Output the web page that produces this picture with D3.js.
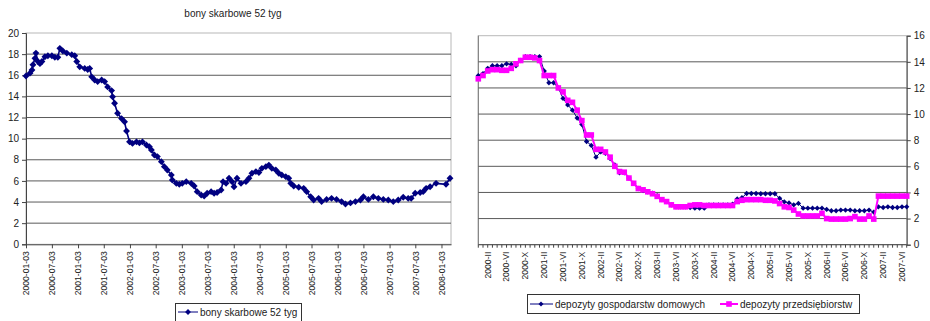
<!DOCTYPE html>
<html lang="pl">
<head>
    <meta charset="UTF-8">
    <title>Bony i depozyty</title>
    <style>
        body { margin: 0; background: #fff; }
        svg { display: block; font-family: "Liberation Sans", Arial, sans-serif; }
        .grid line { stroke: #5a5a5a; stroke-width: 1; }
        .tick text { fill: #222; }
    </style>
</head>
<body>
    <div id="chart"></div>

    <script src="https://d3js.org/d3.v7.min.js"></script>
    <script>
        // bony skarbowe 52 tyg - weeks counted from 2000-01-03
        const bonyStart = '2000-01-03';
        const bonyWeek = [0, 4, 6, 7, 9, 10, 12, 14, 16, 19, 22, 26, 29, 32, 34, 37, 41, 46, 49, 51,
            54, 59, 62, 64, 66, 69, 72, 76, 79, 82, 86, 87, 89, 92, 96, 99, 101, 104, 107, 111,
            114, 117, 121, 124, 126, 129, 132, 136, 139, 142, 146, 147, 151, 154, 157, 161, 166, 169, 172, 176,
            179, 182, 186, 189, 192, 196, 198, 201, 204, 207, 209, 212, 216, 221, 224, 227, 231, 234, 237, 241,
            244, 247, 251, 254, 257, 261, 264, 266, 269, 274, 279, 282, 286, 289, 294, 297, 302, 307, 312, 317,
            321, 326, 331, 336, 339, 344, 349, 354, 359, 364, 369, 374, 379, 384, 387, 391, 396, 399, 402, 406,
            412, 422, 426];
        const bonyValue = [15.93, 16.2, 16.5, 17.0, 17.6, 18.1, 17.3, 17.1, 17.3, 17.75, 17.85, 17.85, 17.7, 17.7, 18.55, 18.3, 18.1, 17.95, 17.85, 17.3,
            16.8, 16.65, 16.55, 16.65, 15.85, 15.55, 15.4, 15.55, 15.4, 14.9, 14.55, 13.97, 13.35, 12.4, 11.9, 11.6, 10.72, 9.7, 9.55, 9.7,
            9.6, 9.7, 9.4, 9.24, 8.93, 8.45, 8.3, 7.82, 7.35, 7.03, 6.56, 6.09, 5.77, 5.68, 5.77, 5.93, 5.77, 5.52, 4.98, 4.67,
            4.57, 4.83, 4.98, 4.83, 4.9, 5.14, 5.93, 5.77, 6.25, 5.93, 5.45, 6.25, 5.77, 5.93, 6.25, 6.72, 6.88, 6.8, 7.19, 7.35,
            7.5, 7.19, 7.03, 6.72, 6.56, 6.4, 6.25, 5.77, 5.52, 5.4, 5.3, 4.98, 4.5, 4.19, 4.35, 4.04, 4.25, 4.35, 4.25, 4.04,
            3.81, 3.92, 4.04, 4.19, 4.5, 4.25, 4.5, 4.35, 4.25, 4.19, 4.04, 4.19, 4.45, 4.35, 4.35, 4.83, 4.9, 4.98, 5.3, 5.45,
            5.77, 5.68, 6.25];
        const bonyTicks = ['2000-01-03', '2000-07-03', '2001-01-03', '2001-07-03', '2002-01-03', '2002-07-03',
            '2003-01-03', '2003-07-03', '2004-01-03', '2004-07-03', '2005-01-03', '2005-07-03', '2006-01-03',
            '2006-07-03', '2007-01-03', '2007-07-03', '2008-01-03'];
        const bonyYTicks = [0, 2, 4, 6, 8, 10, 12, 14, 16, 18, 20];

        // depozyty - monthly, starting 1999-XII
        const depGosp = [12.95, 13.1, 13.5, 13.7, 13.7, 13.7, 13.85, 13.8, 13.7, 14.1,
            14.4, 14.4, 14.4, 14.4, 13.3, 12.4, 12.4, 12.0, 11.2, 10.7,
            10.3, 9.7, 9.2, 7.9, 7.6, 6.7, 7.1, 7.0, 6.6, 6.1,
            5.5, 5.5, 5.1, 4.7, 4.3, 4.15, 4.05, 3.95, 3.75, 3.45,
            3.3, 3.05, 2.9, 2.9, 2.9, 2.85, 2.8, 2.8, 2.8, 3.05,
            3.05, 3.05, 3.05, 3.05, 3.1, 3.5, 3.6, 3.92, 3.92, 3.92,
            3.9, 3.9, 3.9, 3.9, 3.55, 3.28, 3.2, 3.05, 3.16, 2.8,
            2.8, 2.8, 2.8, 2.8, 2.7, 2.6, 2.6, 2.65, 2.65, 2.65,
            2.6, 2.6, 2.6, 2.65, 2.5, 2.9, 2.85, 2.9, 2.85, 2.85,
            2.9, 2.9];
        const depPrzed = [12.7, 12.95, 13.3, 13.4, 13.4, 13.35, 13.35, 13.5, 13.85, 14.1,
            14.35, 14.35, 14.3, 14.1, 12.95, 12.95, 12.95, 12.0, 11.7, 11.05,
            10.9, 10.3, 9.5, 8.4, 8.4, 7.3, 7.3, 7.1, 6.7, 6.0,
            5.6, 5.55, 5.1, 4.7, 4.3, 4.2, 4.05, 3.9, 3.7, 3.45,
            3.3, 3.05, 2.9, 2.9, 2.9, 3.0, 3.05, 3.05, 3.0, 3.0,
            3.0, 3.0, 3.0, 3.0, 3.0, 3.3, 3.4, 3.45, 3.45, 3.45,
            3.45, 3.4, 3.4, 3.35, 3.15, 2.9, 2.85, 2.65, 2.35, 2.2,
            2.2, 2.2, 2.2, 2.4, 2.0, 1.96, 1.96, 1.96, 1.96, 2.0,
            2.15, 1.96, 1.96, 2.2, 1.96, 3.72, 3.72, 3.72, 3.72, 3.72,
            3.72, 3.72];
        const depTicks = ['2000-II', '2000-VI', '2000-X', '2001-II', '2001-VI', '2001-X', '2002-II', '2002-VI',
            '2002-X', '2003-II', '2003-VI', '2003-X', '2004-II', '2004-VI', '2004-X', '2005-II', '2005-VI',
            '2005-X', '2006-II', '2006-VI', '2006-X', '2007-II', '2007-VI'];
        const depYTicks = [0, 2, 4, 6, 8, 10, 12, 14, 16];
        const roman = ['I', 'II', 'III', 'IV', 'V', 'VI', 'VII', 'VIII', 'IX', 'X', 'XI', 'XII'];

        // month categories for the right chart
        const depMonths = depGosp.map((d, i) => {
            const m = 11 + i;
            return `${1999 + Math.floor(m / 12)}-${roman[m % 12]}`;
        });

        const parseDate = d3.timeParse('%Y-%m-%d');
        const navy = '#000080';
        const pink = '#ff00ff';

        const svg = d3.select('#chart')
            .append('svg')
            .attr('width', 930)
            .attr('height', 321);

        // ---------- left chart ----------
        const x1 = d3.scaleTime()
            .domain([parseDate('2000-01-03'), parseDate('2008-03-10')])
            .range([26, 451]);
        const y1 = d3.scaleLinear().domain([0, 20]).range([244.3, 33]);

        const bony = bonyWeek.map((w, i) => ({
            date: d3.timeDay.offset(parseDate(bonyStart), w * 7),
            value: bonyValue[i]
        }));

        svg.append('text')
            .attr('x', 233).attr('y', 17)
            .attr('text-anchor', 'middle')
            .attr('font-size', 10)
            .attr('fill', '#222')
            .text('bony skarbowe 52 tyg');

        // plot border
        svg.append('rect')
            .attr('x', 26).attr('y', y1(20))
            .attr('width', 451 - 26).attr('height', y1(0) - y1(20))
            .attr('fill', 'none').attr('stroke', '#b8b8b8');

        svg.append('g')
            .attr('class', 'grid')
            .selectAll('line')
            .data(bonyYTicks.filter(v => v > 0 && v < 20))
            .enter().append('line')
            .attr('x1', 26).attr('x2', 451)
            .attr('y1', d => y1(d)).attr('y2', d => y1(d));

        svg.append('g')
            .attr('transform', 'translate(26,0)')
            .call(d3.axisLeft(y1).tickValues(bonyYTicks).tickSize(4).tickPadding(3))
            .call(g => g.selectAll('text').attr('font-size', 10).attr('font-family', null))
            .call(g => g.selectAll('line, path').attr('stroke', '#444'));

        svg.append('g')
            .attr('transform', `translate(0,${y1(0)})`)
            .call(d3.axisBottom(x1).tickValues(bonyTicks.map(parseDate)).tickFormat(d3.timeFormat('%Y-%m-%d')).tickSize(4).tickSizeOuter(0))
            .call(g => g.selectAll('line, path').attr('stroke', '#444'))
            .call(g => g.selectAll('text')
                .attr('font-size', 8.6).attr('font-family', null)
                .attr('text-anchor', 'end')
                .attr('transform', 'rotate(-90)')
                .attr('x', -7).attr('y', 0).attr('dy', '0.34em'));

        svg.append('path')
            .datum(bony)
            .attr('fill', 'none')
            .attr('stroke', navy)
            .attr('stroke-width', 1.6)
            .attr('d', d3.line().x(d => x1(d.date)).y(d => y1(d.value)));

        svg.append('g')
            .selectAll('path')
            .data(bony)
            .enter().append('path')
            .attr('transform', d => `translate(${x1(d.date)},${y1(d.value)})`)
            .attr('d', d3.symbol(d3.symbolDiamond2, 30))
            .attr('fill', navy);

        // left legend
        const leg1 = svg.append('g');
        leg1.append('rect')
            .attr('x', 175.5).attr('y', 303.5).attr('width', 126).attr('height', 24)
            .attr('fill', '#fff').attr('stroke', '#333');
        leg1.append('line')
            .attr('x1', 178).attr('x2', 198).attr('y1', 312).attr('y2', 312)
            .attr('stroke', navy);
        leg1.append('path')
            .attr('transform', 'translate(188,312)')
            .attr('d', d3.symbol(d3.symbolDiamond2, 22))
            .attr('fill', navy);
        leg1.append('text')
            .attr('x', 200).attr('y', 315.5)
            .attr('font-size', 10).attr('fill', '#222')
            .text('bony skarbowe 52 tyg');

        // ---------- right chart ----------
        const x2 = d3.scaleLinear().domain([0, depMonths.length - 1]).range([478.3, 906.7]);
        const y2 = d3.scaleLinear().domain([0, 16]).range([244.7, 35.7]);

        svg.append('rect')
            .attr('x', 478.3).attr('y', y2(16))
            .attr('width', 906.7 - 478.3).attr('height', y2(0) - y2(16))
            .attr('fill', 'none').attr('stroke', '#b8b8b8');

        svg.append('line')
            .attr('x1', 478.3).attr('x2', 478.3).attr('y1', y2(16)).attr('y2', y2(0))
            .attr('stroke', '#777');

        svg.append('g')
            .attr('class', 'grid')
            .selectAll('line')
            .data(depYTicks.filter(v => v > 0 && v < 16))
            .enter().append('line')
            .attr('x1', 478.3).attr('x2', 906.7)
            .attr('y1', d => y2(d)).attr('y2', d => y2(d));

        svg.append('g')
            .attr('transform', 'translate(906.7,0)')
            .call(d3.axisRight(y2).tickValues(depYTicks).tickSize(4).tickPadding(3))
            .call(g => g.selectAll('text').attr('font-size', 10).attr('font-family', null))
            .call(g => g.selectAll('line, path').attr('stroke', '#444'));

        // category axis: a small tick on every month, labels every fourth month
        const xAxis2 = svg.append('g').attr('transform', `translate(0,${y2(0)})`);
        xAxis2.append('line')
            .attr('x1', 478.3).attr('x2', 906.7)
            .attr('stroke', '#444');
        xAxis2.selectAll('.mt')
            .data(depMonths)
            .enter().append('line')
            .attr('x1', (d, i) => x2(i)).attr('x2', (d, i) => x2(i))
            .attr('y1', 0).attr('y2', 3)
            .attr('stroke', '#444');
        xAxis2.selectAll('text')
            .data(depTicks)
            .enter().append('text')
            .attr('transform', d => `translate(${x2(depMonths.indexOf(d))},0) rotate(-90)`)
            .attr('x', -7).attr('dy', '0.34em')
            .attr('text-anchor', 'end')
            .attr('font-size', 8.6).attr('fill', '#222')
            .text(d => d);

        const line2 = d3.line().x((d, i) => x2(i)).y(d => y2(d));

        svg.append('path')
            .datum(depGosp)
            .attr('fill', 'none').attr('stroke', navy).attr('stroke-width', 1)
            .attr('d', line2);
        svg.append('g')
            .selectAll('path')
            .data(depGosp)
            .enter().append('path')
            .attr('transform', (d, i) => `translate(${x2(i)},${y2(d)})`)
            .attr('d', d3.symbol(d3.symbolDiamond2, 18))
            .attr('fill', navy);

        svg.append('path')
            .datum(depPrzed)
            .attr('fill', 'none').attr('stroke', pink).attr('stroke-width', 2)
            .attr('d', line2);
        svg.append('g')
            .selectAll('rect')
            .data(depPrzed)
            .enter().append('rect')
            .attr('x', (d, i) => x2(i) - 2.8).attr('y', d => y2(d) - 2.8)
            .attr('width', 5.6).attr('height', 5.6)
            .attr('fill', pink);

        // right legend
        const leg2 = svg.append('g');
        leg2.append('rect')
            .attr('x', 527.5).attr('y', 294.5).attr('width', 332).attr('height', 19)
            .attr('fill', '#fff').attr('stroke', '#333');
        leg2.append('line')
            .attr('x1', 530).attr('x2', 553).attr('y1', 304).attr('y2', 304)
            .attr('stroke', navy);
        leg2.append('path')
            .attr('transform', 'translate(541,304)')
            .attr('d', d3.symbol(d3.symbolDiamond2, 16))
            .attr('fill', navy);
        leg2.append('text')
            .attr('x', 555).attr('y', 307.5)
            .attr('font-size', 10).attr('fill', '#222')
            .text('depozyty gospodarstw domowych');
        leg2.append('line')
            .attr('x1', 720).attr('x2', 738).attr('y1', 304).attr('y2', 304)
            .attr('stroke', pink).attr('stroke-width', 2);
        leg2.append('rect')
            .attr('x', 726.2).attr('y', 301.2).attr('width', 5.6).attr('height', 5.6)
            .attr('fill', pink);
        leg2.append('text')
            .attr('x', 740).attr('y', 307.5)
            .attr('font-size', 10).attr('fill', '#222')
            .text('depozyty przedsiębiorstw');
    </script>
</body>
</html>
